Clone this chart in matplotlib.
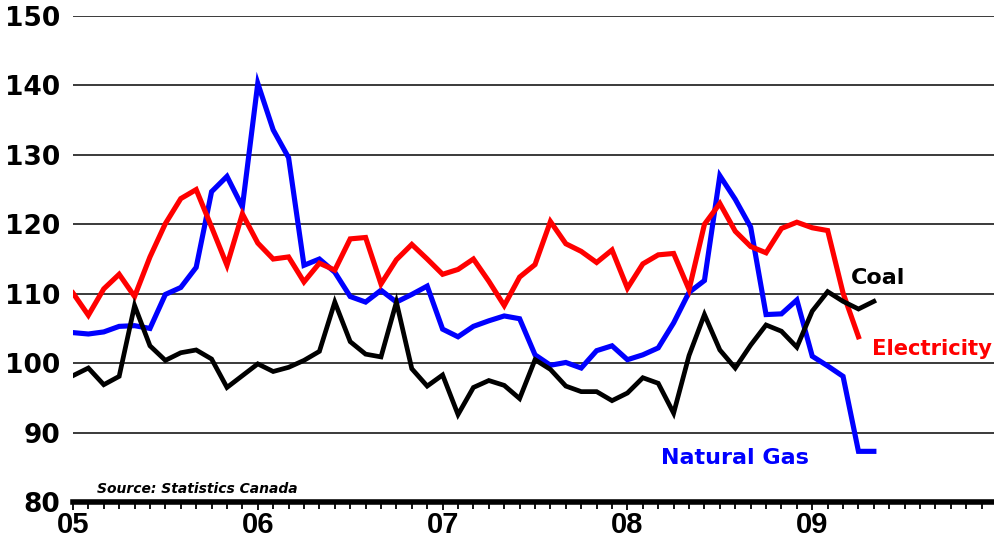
import matplotlib
matplotlib.use("Agg")
import matplotlib.pyplot as plt
from matplotlib.ticker import FixedLocator, MultipleLocator

# Monthly index values, Jan 2005 onward (month 0 = Jan 2005)
electricity = [110.1, 106.9, 110.7, 112.8, 109.6, 115.3, 120.1, 123.7, 125.0, 119.6,
               114.1, 121.5, 117.3, 115.0, 115.3, 111.7, 114.4, 113.4, 117.9, 118.1,
               111.4, 114.9, 117.1, 115.0, 112.8, 113.5, 115.0, 111.8, 108.3, 112.4,
               114.2, 120.4, 117.2, 116.1, 114.5, 116.3, 110.8, 114.3, 115.6, 115.8,
               110.6, 120.0, 123.0, 119.0, 116.8, 115.9, 119.4, 120.3, 119.5, 119.1,
               110.1, 103.8]
natural_gas = [104.4, 104.2, 104.5, 105.3, 105.4, 105.0, 109.9, 110.9, 113.8, 124.7,
               126.9, 122.5, 140.3, 133.6, 129.6, 114.1, 115.0, 113.1, 109.6, 108.8,
               110.5, 108.8, 109.9, 111.1, 104.9, 103.8, 105.3, 106.1, 106.8, 106.4,
               101.2, 99.7, 100.1, 99.3, 101.8, 102.5, 100.5, 101.2, 102.2, 105.8,
               110.2, 111.9, 127.0, 123.6, 119.6, 107.0, 107.1, 109.1, 101.0, 99.6,
               98.1, 87.3, 87.3]
coal = [98.2, 99.3, 96.9, 98.1, 108.3, 102.5, 100.4, 101.5, 101.9, 100.6,
        96.5, 98.2, 99.9, 98.8, 99.4, 100.4, 101.7, 108.8, 103.1, 101.3,
        100.9, 108.8, 99.2, 96.7, 98.3, 92.6, 96.5, 97.5, 96.8, 94.9,
        100.5, 99.1, 96.7, 95.9, 95.9, 94.6, 95.7, 97.9, 97.1, 92.8,
        101.1, 107.0, 101.9, 99.3, 102.6, 105.5, 104.6, 102.3, 107.5, 110.3,
        108.9, 107.8, 108.9]
year_labels = ["05", "06", "07", "08", "09"]
y_ticks = [80, 90, 100, 110, 120, 130, 140, 150]

plt.rcParams['font.family'] = ['DejaVu Sans']

fig = plt.figure(figsize=(9.94, 5.39), dpi=100)
ax = fig.add_axes([0.0734, 0.0686, 0.9266, 0.9017])

ax.set_xlim(0, 59.8)
ax.set_ylim(80, 150)

for v in y_ticks[1:]:
    ax.axhline(v, color='#3a3a3a', lw=1.4, zorder=1)

ax.plot(range(len(natural_gas)), natural_gas, color='#0000FF', lw=3.7, zorder=3,
        solid_joinstyle='miter')
ax.plot(range(len(electricity)), electricity, color='#FF0000', lw=3.7, zorder=4,
        solid_joinstyle='miter')
ax.plot(range(len(coal)), coal, color='black', lw=3.4, zorder=5,
        solid_joinstyle='miter')

for s in ['left', 'right', 'top']:
    ax.spines[s].set_visible(False)
ax.spines['bottom'].set_linewidth(4)
ax.spines['bottom'].set_zorder(6)

ax.xaxis.set_major_locator(FixedLocator([0, 12, 24, 36, 48]))
ax.set_xticklabels(year_labels)
ax.xaxis.set_minor_locator(MultipleLocator(1))
ax.tick_params(axis='x', which='both', direction='out', length=5, width=1.3, pad=0.5)
ax.tick_params(axis='x', which='major', length=6)
for lab in ax.get_xticklabels():
    lab.set_fontfamily(['Liberation Sans', 'DejaVu Sans'])
    lab.set_fontweight('bold')
    lab.set_fontsize(21)

ax.set_yticks(y_ticks)
ax.tick_params(axis='y', length=0, labelsize=19, pad=9)
for lab in ax.get_yticklabels():
    lab.set_fontweight('bold')

ax.text(50.5, 111.4, "Coal", color='black', fontsize=16, fontweight='bold',
        ha='left', va='baseline')
ax.text(51.9, 101.15, "Electricity", color='#FF0000', fontsize=15.2, fontweight='bold',
        ha='left', va='baseline')
ax.text(38.2, 85.45, "Natural Gas", color='#0000FF', fontsize=16, fontweight='bold',
        ha='left', va='baseline')
ax.text(1.55, 81.3, "Source: Statistics Canada", color='black', fontsize=10,
        fontweight='bold', fontstyle='italic', ha='left', va='baseline')

fig.savefig("out.png", dpi=100)
